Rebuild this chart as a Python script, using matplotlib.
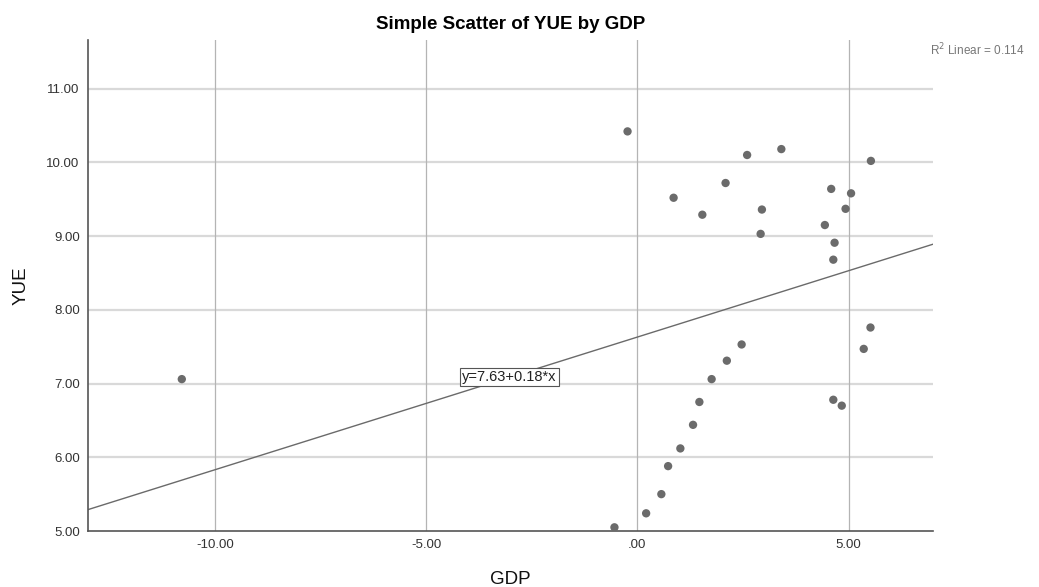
import matplotlib.pyplot as plt
import numpy as np

plt.rcParams['font.family'] = ['Liberation Sans', 'DejaVu Sans']

# GDP (x) and YUE (y) values
gdp = [-0.23, 2.60, 3.41, 5.53, 2.09, 0.86, 1.54, 2.95, 2.92, 4.59,
       5.06, 4.93, 4.44, 4.67, 4.64, 5.52, 5.36, 4.64, 4.84, 2.47,
       2.12, 1.76, 1.47, 1.32, 1.02, 0.73, 0.57, 0.21, -0.54, -10.78]
yue = [10.42, 10.10, 10.18, 10.02, 9.72, 9.52, 9.29, 9.36, 9.03, 9.64,
       9.58, 9.37, 9.15, 8.91, 8.68, 7.76, 7.47, 6.78, 6.70, 7.53,
       7.31, 7.06, 6.75, 6.44, 6.12, 5.88, 5.50, 5.24, 5.05, 7.06]

intercept = 7.63
slope = 0.18
r2 = 0.114

xticks = [-10, -5, 0, 5]
xtick_labels = ["-10.00", "-5.00", ".00", "5.00"]
yticks = [5, 6, 7, 8, 9, 10, 11]
ytick_labels = ["5.00", "6.00", "7.00", "8.00", "9.00", "10.00", "11.00"]

fig = plt.figure(figsize=(10.39, 5.87), dpi=100)
ax = fig.add_axes([0.0847, 0.0954, 0.8133, 0.8365])

xlo, xhi = -13.0, 7.0
ax.set_xlim(xlo, xhi)
ax.set_ylim(5.0, 11.66)

for v in yticks[1:]:
    ax.axhline(v, color="#d9d9d9", lw=1.6, zorder=1)
for v in xticks:
    ax.axvline(v, color="#b4b4b4", lw=0.9, zorder=1)

xs = np.array([xlo, xhi])
ax.plot(xs, intercept + slope * xs, color="#6a6a6a", lw=1.0, zorder=2)

ax.scatter(gdp, yue, s=36, color="#6b6b6b", edgecolors="none", zorder=3)

ax.text(-3.03, 7.09, "y=%.2f+%.2f*x" % (intercept, slope), fontsize=10.5,
        ha="center", va="center", color="#222222", zorder=4,
        bbox=dict(boxstyle="square,pad=0.15", fc="white", ec="#555555", lw=0.8))

ax.set_xticks(xticks)
ax.set_xticklabels(xtick_labels)
ax.set_yticks(yticks)
ax.set_yticklabels(ytick_labels)
ax.tick_params(length=0, labelsize=9.5, colors="#333333", pad=6)

for s in ["top", "right"]:
    ax.spines[s].set_visible(False)
for s in ["left", "bottom"]:
    ax.spines[s].set_color("#555555")
    ax.spines[s].set_linewidth(1.2)

ax.set_xlabel("GDP", fontsize=13.5, labelpad=14, color="#111111")
ax.set_ylabel("YUE", fontsize=13.5, labelpad=12, color="#111111")
ax.set_title("Simple Scatter of YUE by GDP", fontsize=13.5, fontweight="bold", pad=8)

fig.text(0.895, 0.915, "R$^2$ Linear = %.3f" % r2, fontsize=8.5, color="#777777",
         ha="left", va="center")

plt.savefig("out.png")
plt.close()
